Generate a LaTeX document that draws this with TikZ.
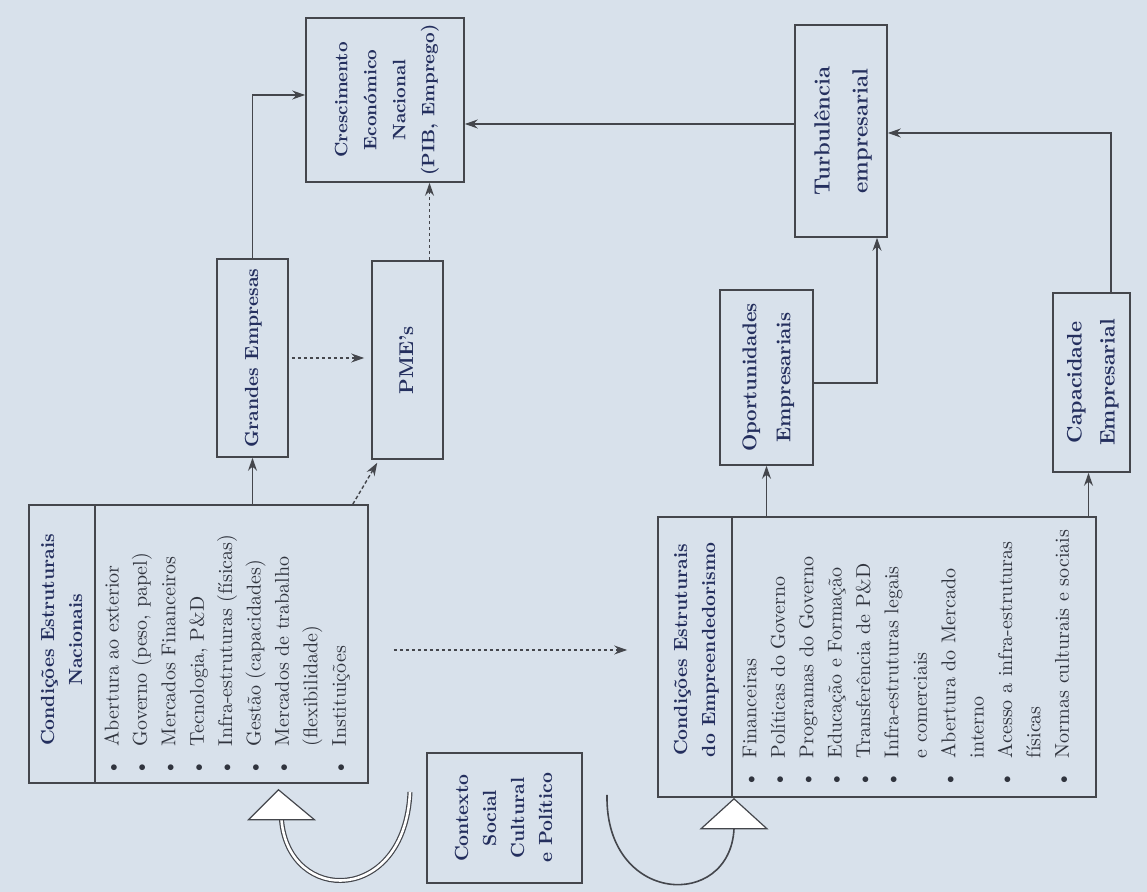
\documentclass[tikz,border=0pt]{standalone}
\usepackage{tikz}
\usetikzlibrary{arrows.meta,calc}

\definecolor{bgc}{RGB}{216,225,235}
\definecolor{titlec}{RGB}{36,47,94}
\definecolor{itemc}{RGB}{48,52,62}
\definecolor{linec}{RGB}{68,70,76}

\newcommand{\vtext}[1]{\rotatebox{90}{\begin{tabular}{@{}c@{}}#1\end{tabular}}}

\begin{document}
\begin{tikzpicture}[x=0.5pt,y=-0.5pt]
			\tikzset{box/.style={draw=linec,line width=0.8pt,inner sep=0pt,text=titlec,font=\fontsize{9.5}{14}\selectfont\bfseries}}
			\tikzset{items/.style={inner sep=0pt,text=itemc,font=\fontsize{10}{14.2}\selectfont}}
			\tikzset{arr/.style={draw=linec,line width=0.7pt,-{Stealth[length=6.5pt,width=4.5pt]}}}
			\tikzset{darr/.style={arr,dash pattern=on 1.8pt off 1.2pt}}
			\tikzset{loopline/.style={draw=linec,line width=0.6pt}}

		\useasboundingbox (0,0) rectangle (1147,892);
		\fill[bgc] (0,0) rectangle (1147,892);

		% top row
		\node[box,minimum width=79pt,minimum height=82pt,font=\fontsize{9}{14.5}\selectfont\bfseries] (cresc) at (385,100)
			{\vtext{Crescimento\\Económico\\Nacional\\(PIB, Emprego)}};
		\node[box,minimum width=46pt,minimum height=106pt,font=\fontsize{11}{19}\selectfont\bfseries] (turb) at (841,131)
			{\vtext{Turbulência\\empresarial}};

		% firms
		\node[box,minimum width=35.5pt,minimum height=99pt] (gE) at (252.5,358) {\vtext{Grandes Empresas}};
		\node[box,minimum width=35.5pt,minimum height=99pt,font=\fontsize{10}{14}\selectfont\bfseries] (pME) at (407.5,360) {\vtext{PME's}};
		\node[box,minimum width=46.5pt,minimum height=87.5pt,font=\fontsize{10}{17}\selectfont\bfseries] (opp) at (766.5,377.5)
			{\vtext{Oportunidades\\Empresariais}};
		\node[box,minimum width=38.5pt,minimum height=89.5pt,font=\fontsize{10.5}{16.5}\selectfont\bfseries] (cap) at (1091.5,382.5)
			{\vtext{Capacidade\\Empresarial}};

		% structural conditions
		\node[box,minimum width=169.5pt,minimum height=139pt] (cEN) at (198.5,644) {};
		\draw[draw=linec,line width=0.8pt] ([xshift=33.5pt]cEN.north west) -- ([xshift=33.5pt]cEN.south west);
		\node[box,draw=none] (cENtitle) at (62.5,640) {\vtext{Condições Estruturais\\Nacionais}};
		\node[items,anchor=south] (cENlist) at (226.5,776) {\rotatebox{90}{\begin{tabular}{@{}l@{\hspace{7pt}}l@{}}
			\textbullet & Abertura ao exterior\\
			\textbullet & Governo (peso, papel)\\
			\textbullet & Mercados Financeiros\\
			\textbullet & Tecnologia, P\&D\\
			\textbullet & Infra-estruturas (físicas)\\
			\textbullet & Gestão (capacidades)\\
			\textbullet & Mercados de trabalho\\
			 & (flexibilidade)\\
			\textbullet & Instituições
		\end{tabular}}};

		\node[box,minimum width=219pt,minimum height=140pt] (cEE) at (877,657) {};
		\draw[draw=linec,line width=0.8pt] ([xshift=37.5pt]cEE.north west) -- ([xshift=37.5pt]cEE.south west);
		\node[box,draw=none] (cEEtitle) at (695.5,650) {\vtext{Condições Estruturais\\do Empreendedorismo}};
		\node[items,anchor=south] (cEElist) at (907,788) {\rotatebox{90}{\begin{tabular}{@{}l@{\hspace{7pt}}l@{}}
			\textbullet & Financeiras\\
			\textbullet & Políticas do Governo\\
			\textbullet & Programas do Governo\\
			\textbullet & Educação e Formação\\
			\textbullet & Transferência de P\&D\\
			\textbullet & Infra-estruturas legais\\
			 & e comerciais\\
			\textbullet & Abertura do Mercado\\
			 & interno\\
			\textbullet & Acesso a infra-estruturas\\
			 & físicas\\
			\textbullet & Normas culturais e sociais
		\end{tabular}}};

		\node[box,minimum width=77.5pt,minimum height=65pt] (ctx) at (504.5,818)
			{\vtext{Contexto\\Social\\Cultural\\e Político}};

		% connectors
		\draw[arr] (gE.south |- cEN.north) -- (gE.south);
		\draw[arr] (gE.north) |- ([yshift=2.5pt]cresc.west);
		\draw[darr,shorten <=1.5pt,shorten >=3.5pt] (gE.east) -- (gE.east -| pME.west);
		\draw[darr] ([xshift=-8pt]cEN.north east) -- ([xshift=3pt,yshift=-1.5pt]pME.south west);
		\draw[darr] ([xshift=11pt]pME.north) -- ([xshift=11pt]pME.north |- cresc.south);
		\draw[arr] ([yshift=3.5pt]turb.west) -- ([yshift=3.5pt]turb.west -| cresc.east);
		\draw[arr] ([yshift=-2.75pt]opp.east) -| ([xshift=18pt]turb.south);
		\draw[arr] ([xshift=9.75pt]cap.north) |- ([yshift=-1pt]turb.east);
		\draw[arr] (opp.south |- cEE.north) -- (opp.south);
		\draw[arr] ([xshift=-1.5pt]cap.south |- cEE.north) -- ([xshift=-1.5pt]cap.south);
		\draw[darr,shorten <=12.5pt,shorten >=15pt] ([yshift=-3pt]cEN.east) -- ([yshift=-3pt]cEN.east -| cEE.west);

		% context loops
		\coordinate (tipA) at ([xshift=40pt,yshift=-3pt]cEN.south);
		\coordinate (loopA) at (410,792);
		\draw[loopline,double=white,double distance=1.3pt] ($(tipA)+(3,30)$) .. controls +(7,85) and +(-5,113) .. (loopA);
		\filldraw[loopline,fill=white] (tipA) -- ++(-30,30) -- ++(66,0) -- cycle;

		\coordinate (tipB) at ([xshift=-71.5pt,yshift=-0.5pt]cEE.south);
		\coordinate (loopB) at (607,795);
		\draw[loopline,line width=0.8pt] ($(tipB)+(0,30)$) .. controls +(-4,82) and +(-2,110) .. (loopB);
		\filldraw[loopline,fill=white] (tipB) -- ++(-33,30) -- ++(66,0) -- cycle;

	\end{tikzpicture}
\end{document}
